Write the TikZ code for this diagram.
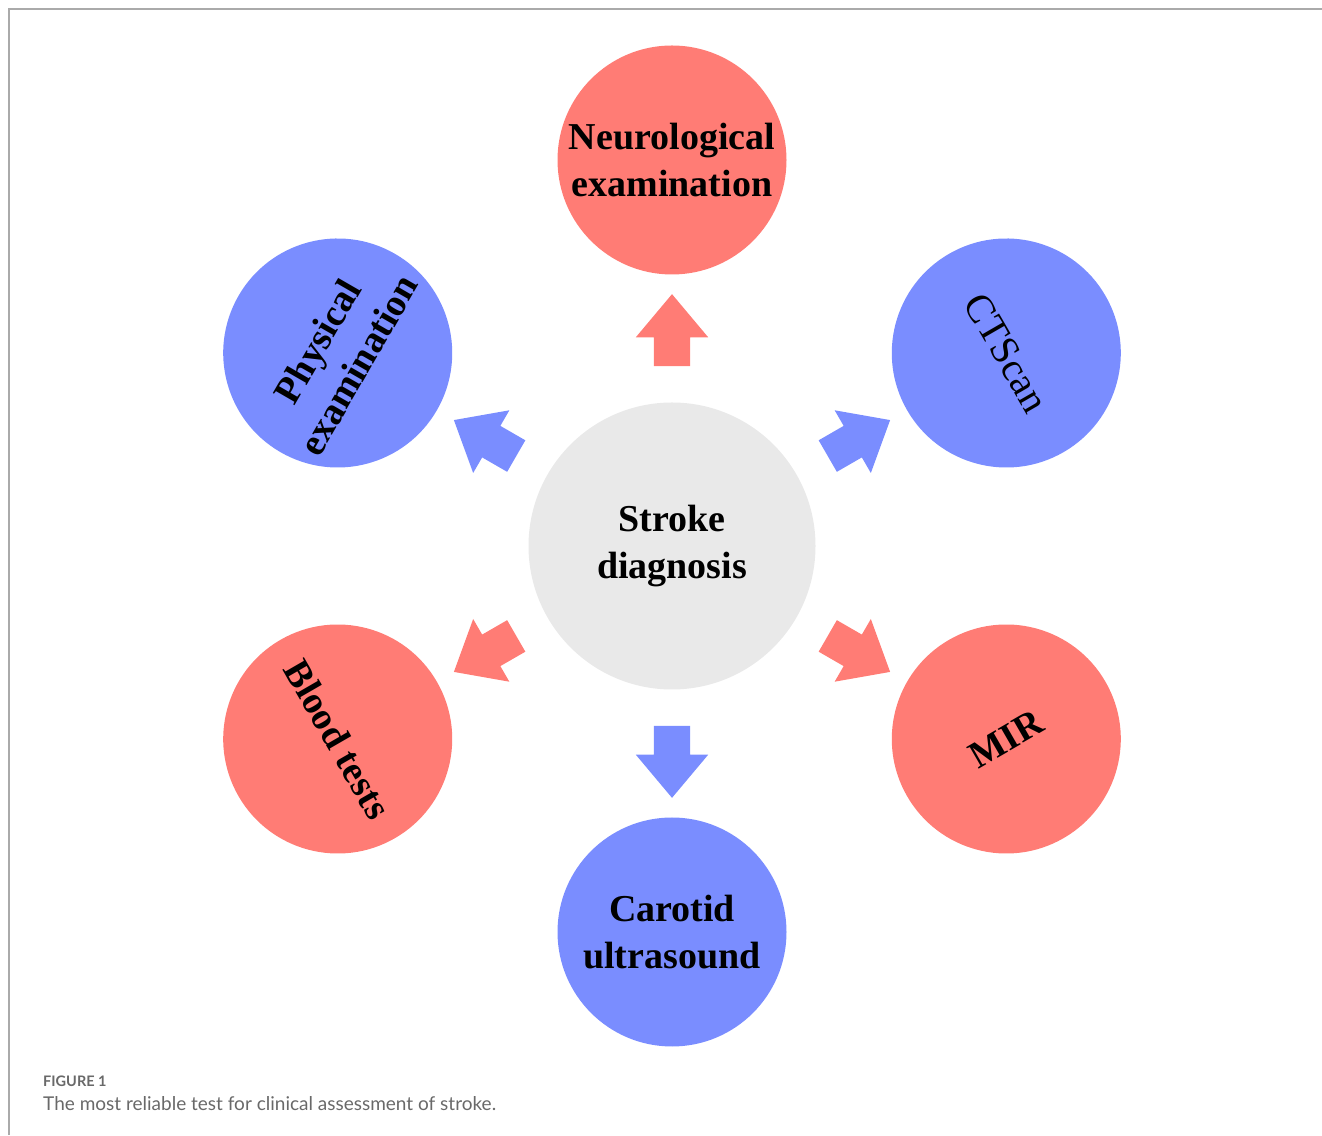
\documentclass[tikz,border=0pt]{standalone}
\usepackage{fontspec}
\setmainfont{Liberation Serif}
\newfontfamily\capfont{Lato}
\usetikzlibrary{shapes.arrows}

\definecolor{redfill}{RGB}{255,124,117}
\definecolor{bluefill}{RGB}{122,141,255}
\definecolor{greyfill}{RGB}{233,233,233}
\definecolor{framegrey}{RGB}{170,170,170}
\definecolor{capgrey}{RGB}{105,105,105}

\begin{document}
\begin{tikzpicture}[x = 1pt, y = 1pt,
  bubble/.style = {circle, minimum size = 229pt, inner sep = 0pt, align = center, font = \bfseries\fontsize{38}{47}\selectfont},
  blockarrow/.style = {single arrow, draw = none, minimum height = 72pt, inner sep = 0pt, inner ysep = 18pt, text height = 0pt, text depth = 0pt, single arrow head extend = 18pt, single arrow tip angle = 80}]

\useasboundingbox (0, 0) rectangle (1322, 1135);

 \draw[framegrey, line width = 2pt] (9, 0) -- (9, 1126) -- (1322, 1126);

  \node[bubble, fill = greyfill, minimum size = 287pt] (stroke) at (672, 589) {Stroke\\diagnosis};

  \node[bubble, fill = redfill] (neuro) at ([shift = {(90:386)}]stroke) {Neurological\\examination};
  \node[bubble, fill = bluefill, rotate = 60] (physical) at ([shift = {(150:386)}]stroke) {Physical\\examination};
  \node[bubble, fill = bluefill, rotate = -60, font = \fontsize{40}{47}\selectfont] (ctscan) at ([shift = {(30:386)}]stroke) {CTScan};
  \node[bubble, fill = redfill, rotate = -60] (blood) at ([shift = {(210:386)}]stroke) {Blood tests};
  \node[bubble, fill = redfill, rotate = 30] (mir) at ([shift = {(330:386)}]stroke) {MIR};
  \node[bubble, fill = bluefill] (carotid) at ([shift = {(270:386)}]stroke) {Carotid\\ultrasound};

	\foreach \ang/\col[count=\i] in {90/redfill, 150/bluefill, 30/bluefill, 210/redfill, 330/redfill, 270/bluefill} {
	\node[blockarrow, fill = \col, rotate = \ang] (arrow\i) at ([shift = {(\ang:205)}]stroke) {};
}

  \node[anchor = base west, inner sep = 0pt, text = capgrey, font = \capfont\bfseries\fontsize{14.5}{18}\selectfont] (figlabel) at (43, 49) {FIGURE 1};
  \node[anchor = base west, inner sep = 0pt, text = capgrey, font = \capfont\fontsize{19}{23}\selectfont] (caption) at (43, 25) {The most reliable test for clinical assessment of stroke.};
\end{tikzpicture}
\end{document}
